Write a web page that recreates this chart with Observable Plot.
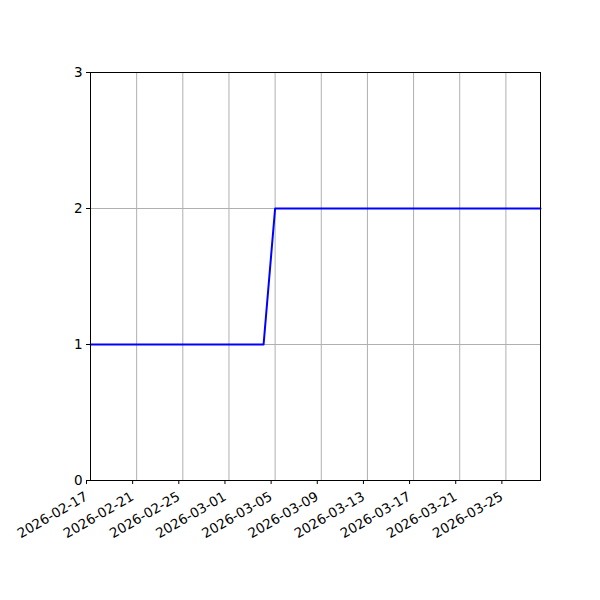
<!DOCTYPE html>
<html>
<head>
<meta charset="utf-8">
<script src="https://cdn.jsdelivr.net/npm/d3@7"></script>
<script src="https://cdn.jsdelivr.net/npm/@observablehq/plot@0.6"></script>
<style>
  html, body { margin: 0; padding: 0; background: white; }
  #chart svg { display: block; }
</style>
</head>
<body>
<div id="chart"></div>
<script>
const dates = ["2026-02-17", "2026-03-04", "2026-03-05", "2026-03-28"];
const values = [1, 1, 2, 2];
const xTickLabels = ["2026-02-17", "2026-02-21", "2026-02-25", "2026-03-01", "2026-03-05",
  "2026-03-09", "2026-03-13", "2026-03-17", "2026-03-21", "2026-03-25"];
const yTicks = [0, 1, 2, 3];
const xDomain = ["2026-02-17", "2026-03-28"];

const data = dates.map((d, i) => ({date: new Date(d + "T00:00:00Z"), value: values[i]}));
const xTicks = xTickLabels.map(d => new Date(d + "T00:00:00Z"));
const fmt = d3.utcFormat("%Y-%m-%d");

const chart = Plot.plot({
  width: 600,
  height: 600,
  marginLeft: 90,
  marginRight: 60,
  marginTop: 72,
  marginBottom: 120,
  style: {fontFamily: "DejaVu Sans", fontSize: "13.5px", color: "black", background: "white"},
  x: {type: "utc", domain: xDomain.map(d => new Date(d + "T00:00:00Z"))},
  y: {domain: [0, 3]},
  marks: [
    Plot.gridX(xTicks, {stroke: "#b0b0b0", strokeOpacity: 1, strokeWidth: 1}),
    Plot.gridY(yTicks, {stroke: "#b0b0b0", strokeOpacity: 1, strokeWidth: 1}),
    Plot.line(data, {x: "date", y: "value", stroke: "blue", strokeWidth: 2}),
    Plot.frame({stroke: "black", strokeWidth: 1}),
    Plot.axisX(xTicks, {tickFormat: fmt, tickRotate: -30, tickSize: 4, tickPadding: 11, dx: -4, label: null, fontSize: 13.5, stroke: "black"}),
    Plot.axisY(yTicks, {tickFormat: d3.format("d"), tickSize: 4, tickPadding: 4, label: null, fontSize: 13.5, stroke: "black"})
  ]
});
document.getElementById("chart").append(chart);
</script>
</body>
</html>
